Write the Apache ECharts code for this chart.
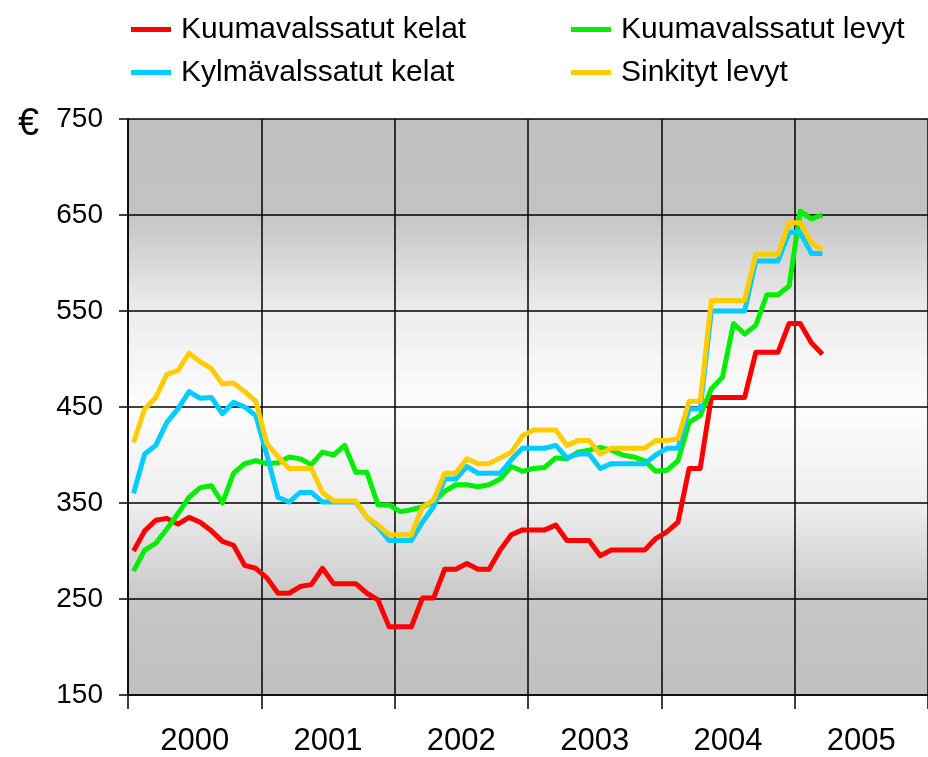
<!DOCTYPE html>
<html>
<head>
<meta charset="utf-8">
<script src="https://cdn.jsdelivr.net/npm/echarts@6/dist/echarts.min.js"></script>
<style>
  html, body { margin: 0; padding: 0; background: #fff; }
  #main { width: 928px; height: 757px; }
</style>
</head>
<body>
<div id="main"></div>
<script>
// vuodet (akselin otsikot)
var years = ['2000', '2001', '2002', '2003', '2004', '2005'];

// kuukausihinnat, tammikuu 2000 - maaliskuu 2005 (€/t)
var kuumaKelat = [
    300, 321, 332, 334, 328, 335, 330, 321, 310, 306, 285, 282,
    272, 256, 256, 263, 265, 282, 266, 266, 266, 256, 249, 221,
    221, 221, 251, 251, 281, 281, 287, 281, 281, 301, 317, 322,
    322, 322, 327, 311, 311, 311, 295, 301, 301, 301, 301, 313,
    320, 330, 386, 386, 460, 460, 460, 460, 507, 507, 507, 537, 537, 517, 505
];
var kuumaLevyt = [
    279, 301, 308, 323, 339, 356, 366, 368, 350, 381, 391, 394,
    391, 392, 398, 396, 390, 403, 400, 410, 382, 382, 348, 348,
    341, 343, 346, 351, 362, 369, 369, 367, 369, 375, 388, 383,
    386, 387, 397, 396, 403, 405, 408, 405, 400, 398, 394, 383,
    384, 394, 434, 441, 469, 481, 537, 526, 535, 567, 567, 576, 654, 646, 650
];
var kylmaKelat = [
    360, 401, 410, 434, 448, 466, 459, 460, 443, 455, 450, 441,
    400, 356, 351, 361, 361, 351, 351, 351, 351, 335, 325, 311,
    311, 311, 330, 346, 375, 375, 388, 381, 381, 381, 395, 407,
    407, 407, 410, 397, 401, 401, 386, 391, 391, 391, 391, 400,
    407, 407, 448, 448, 550, 550, 550, 550, 602, 602, 602, 632, 632, 610, 610
];
var sinkityt = [
    413, 448, 460, 484, 488, 506, 497, 490, 474, 475, 466, 456,
    412, 398, 386, 386, 386, 361, 352, 352, 352, 335, 327, 317,
    317, 317, 346, 353, 381, 381, 396, 391, 391, 397, 403, 420,
    426, 426, 426, 410, 415, 415, 401, 407, 407, 407, 407, 415,
    415, 417, 456, 456, 561, 561, 561, 561, 609, 609, 609, 642, 642, 621, 614
];

var font = '"Liberation Sans", Arial, sans-serif';

// kuukausi i piirretään kuukauden keskelle
function toPoints(values) {
    return values.map(function (v, i) {
        return [i + 0.5, v];
    });
}

function lineSeries(name, color, values) {
    return {
        name: name,
        type: 'line',
        xAxisIndex: 0,
        symbol: 'none',
        lineStyle: { width: 5, color: color, join: 'round' },
        itemStyle: { color: color },
        data: toPoints(values)
    };
}

var chart = echarts.init(document.getElementById('main'));

var legendText = {
    fontFamily: font,
    fontSize: 30,
    lineHeight: 37,
    color: '#000',
    padding: [0, 0, 0, 5]
};

chart.setOption({
    animation: false,
    title: {
        text: '€',
        left: 13,
        top: 101,
        textStyle: { fontFamily: font, fontSize: 38, fontWeight: 'normal', color: '#000' }
    },
    legend: [
        {
            data: ['Kuumavalssatut kelat', 'Kylmävalssatut kelat'],
            orient: 'vertical',
            left: 126,
            top: 6,
            icon: 'rect',
            itemWidth: 40,
            itemHeight: 5,
            itemGap: 6,
            textStyle: legendText
        },
        {
            data: ['Kuumavalssatut levyt', 'Sinkityt levyt'],
            orient: 'vertical',
            left: 566,
            top: 6,
            icon: 'rect',
            itemWidth: 40,
            itemHeight: 5,
            itemGap: 6,
            textStyle: legendText
        }
    ],
    grid: {
        left: 128,
        right: -5,
        top: 119,
        bottom: 61,
        show: true,
        borderWidth: 0,
        backgroundColor: new echarts.graphic.LinearGradient(0, 0, 0, 1, [
            { offset: 0, color: '#c0c0c0' },
            { offset: 0.16, color: '#c3c3c3' },
            { offset: 0.33, color: '#ececec' },
            { offset: 0.5, color: '#fdfdfd' },
            { offset: 0.67, color: '#eeeeee' },
            { offset: 0.84, color: '#c6c6c6' },
            { offset: 1, color: '#c0c0c0' }
        ])
    },
    xAxis: [
        {
            type: 'value',
            min: 0,
            max: 72,
            interval: 12,
            axisLine: { show: true, lineStyle: { color: '#000', width: 1.5 } },
            axisTick: { show: true, length: 14, lineStyle: { color: '#000', width: 1.5 } },
            axisLabel: { show: false },
            splitLine: { show: true, lineStyle: { color: '#000', width: 1.5 } }
        },
        {
            type: 'category',
            data: years,
            position: 'bottom',
            boundaryGap: true,
            axisLine: { show: false },
            axisTick: { show: false },
            splitLine: { show: false },
            axisLabel: {
                margin: 31,
                fontFamily: font,
                fontSize: 31,
                color: '#000'
            }
        }
    ],
    yAxis: {
        type: 'value',
        min: 150,
        max: 750,
        interval: 100,
        axisLine: { show: true, lineStyle: { color: '#000', width: 1.5 } },
        axisTick: { show: true, length: 9, lineStyle: { color: '#000', width: 1.5 } },
        axisLabel: {
            margin: 25,
            fontFamily: font,
            fontSize: 28,
            color: '#000'
        },
        splitLine: { show: true, lineStyle: { color: '#000', width: 1.5 } }
    },
    series: [
        lineSeries('Kuumavalssatut kelat', '#ff0000', kuumaKelat),
        lineSeries('Kuumavalssatut levyt', '#00ee00', kuumaLevyt),
        lineSeries('Kylmävalssatut kelat', '#00ccff', kylmaKelat),
        lineSeries('Sinkityt levyt', '#ffcc00', sinkityt)
    ]
});
</script>
</body>
</html>
